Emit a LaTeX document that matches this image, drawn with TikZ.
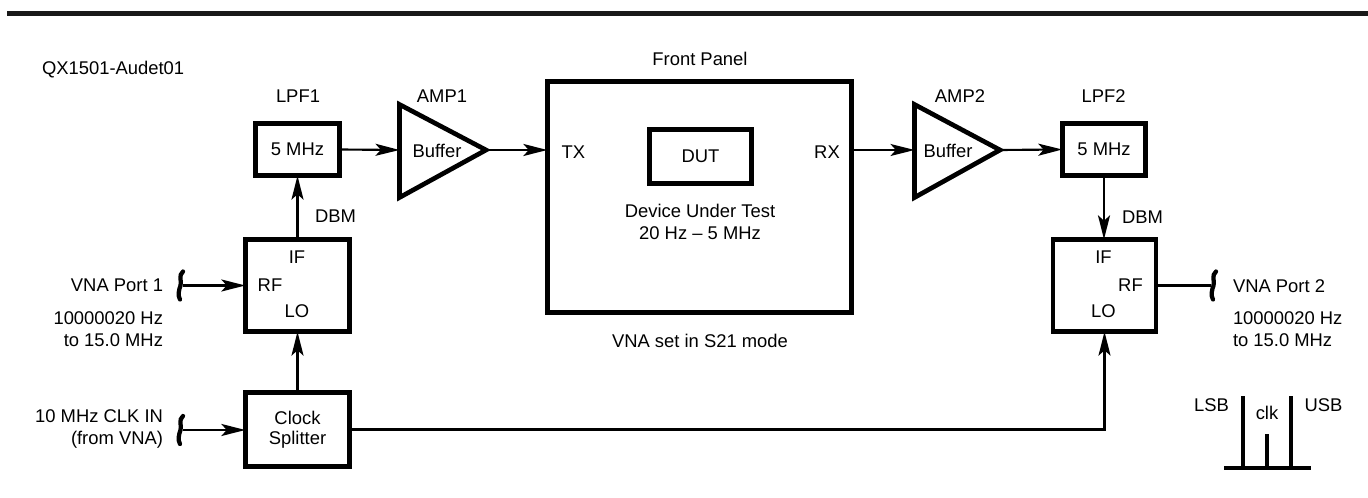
\documentclass[tikz,border=0pt]{standalone}
\usepackage{fontspec}
\setmainfont{Liberation Sans}
\usetikzlibrary{arrows.meta,calc}
\begin{document}
\begin{tikzpicture}[x=0.75pt,y=-0.75pt,
  every node/.style={font=\fontsize{13.8pt}{15pt}\selectfont, inner sep=0pt, outer sep=0pt},
  blk/.style={draw, line width=3.5pt, align=center},
  conn/.style={line width=1.6pt},
  arr/.style={conn, -{Stealth[length=18pt,width=9pt,inset=4pt]}},
  lbl/.style={anchor=base},
  lblw/.style={anchor=base west},
  lble/.style={anchor=base east},
  amp/.style={line width=3.5pt, line join=miter},
  spec/.style={line width=3pt},
  squig/.pic={\draw[line width=3.2pt, line cap=round] (2.5,-14) .. controls (-2.5,-10) and (1.5,-4) .. (0,0) .. controls (-1.5,4) and (-3,10) .. (-0.5,14);}
]
\useasboundingbox (0,0) rectangle (1368,498);
\fill[black!90] (7,11) rectangle (1368,16.5);

% blocks
\node[blk, minimum width=63.2pt, minimum height=39.2pt] (lpf1) at (297.5,149.5) {5 MHz};
\node[blk, minimum width=62.5pt, minimum height=39.2pt] (lpf2) at (1104,149.5) {5 MHz};
\node[blk, minimum width=78.2pt, minimum height=69.2pt] (dbm1) at (297.5,285.5) {};
\node[blk, minimum width=77.2pt, minimum height=69.2pt] (dbm2) at (1104.5,285.5) {};
\node[blk, minimum width=78.2pt, minimum height=55.7pt] (clk) at (297.5,429.5) {Clock\\Splitter};
\node[blk, minimum width=228.2pt, minimum height=173.5pt] (fp) at (699.5,197) {};
\node[blk, minimum width=76.7pt, minimum height=40.7pt] (dut) at (700.5,156.5) {DUT};

% amplifiers
\coordinate (a1in) at (399.5,150);
\coordinate (a1out) at (486,150);
\draw[amp] (399.5,104.5) -- (a1out) -- (399.5,197.5) -- cycle;
\coordinate (a2in) at (914.5,150);
\coordinate (a2out) at (1000,150);
\draw[amp] (914.5,104.5) -- (a2out) -- (914.5,197.5) -- cycle;
\node[lbl] (buf1) at (437,158) {Buffer};
\node[lbl] (buf2) at (948,158) {Buffer};

% squiggle coordinates
\coordinate (sq1) at (183,285.5);
\coordinate (sq2) at (1211,285.5);
\coordinate (sq3) at (183,430);
\pic at ($(sq1)+(-2.5,0)$) {squig};
\pic at ($(sq3)+(-2.5,0)$) {squig};
\pic at ($(sq2)+(2.5,0)$) {squig};

% connectors
\draw[arr] (lpf1.east) -- (a1in);
\draw[arr] (a1out) -- (a1out -| fp.west);
\draw[arr] (fp.east |- a2in) -- (a2in);
\draw[arr] (a2out) -- (lpf2.west);
\draw[arr] (lpf2.south) -- (lpf2.south |- dbm2.north);
\draw[arr] (dbm1.north) -- (lpf1.south);
\draw[arr] (clk.north) -- (dbm1.south);
\draw[arr] (sq1) -- (dbm1.west);
\draw[arr] (sq3) -- (clk.west |- sq3);
\draw[conn] (dbm2.east) -- (sq2);
\draw[arr] (clk.east) -| (dbm2.south);

% labels
\node[lblw] (title) at (42,75) {QX1501-Audet01};
\node[lbl] (lpf1l) at (298,103) {LPF1};
\node[lbl] (amp1l) at (442,103) {AMP1};
\node[lbl] (amp2l) at (960,103) {AMP2};
\node[lbl] (lpf2l) at (1103.5,103) {LPF2};
\node[lbl] (fpl) at (700,66) {Front Panel};
\node[lbl] (tx) at (573.5,158.5) {TX};
\node[lbl] (rx) at (827,158.5) {RX};
\node[lbl] (dutl1) at (700,218) {Device Under Test};
\node[lbl] (dutl2) at (700,240) {20 Hz -- 5 MHz};
\node[lbl] (s21) at (700,348) {VNA set in S21 mode};
\node[lblw] (dbm1l) at (315,223) {DBM};
\node[lblw] (dbm2l) at (1122,224) {DBM};
\node[lbl] (if1) at (297,264) {IF};
\node[lbl] (rf1) at (270,292) {RF};
\node[lbl] (lo1) at (297,318) {LO};
\node[lbl] (if2) at (1103.5,264) {IF};
\node[lbl] (rf2) at (1130.5,292) {RF};
\node[lbl] (lo2) at (1103.5,318) {LO};
\node[lble] (p1) at (163,292) {VNA Port 1};
\node[lble] (p1f1) at (163,325) {10000020 Hz};
\node[lble] (p1f2) at (163,347) {to 15.0 MHz};
\node[lble] (ck1) at (163,423) {10 MHz CLK IN};
\node[lble] (ck2) at (163,445) {(from VNA)};
\node[lblw] (p2) at (1233,293) {VNA Port 2};
\node[lblw] (p2f1) at (1233,325) {10000020 Hz};
\node[lblw] (p2f2) at (1233,347) {to 15.0 MHz};

% spectrum sketch
\draw[spec] (1224,468) -- (1311,468);
\draw[spec] (1243,468) -- (1243,396);
\draw[spec] (1291,468) -- (1291,396);
\draw[spec] (1267,468) -- (1267,434);
\node[lbl] (lsb) at (1211.5,412) {LSB};
\node[lbl] (usb) at (1323.5,412) {USB};
\node[lbl] (clkl) at (1267,420) {clk};
\end{tikzpicture}
\end{document}
